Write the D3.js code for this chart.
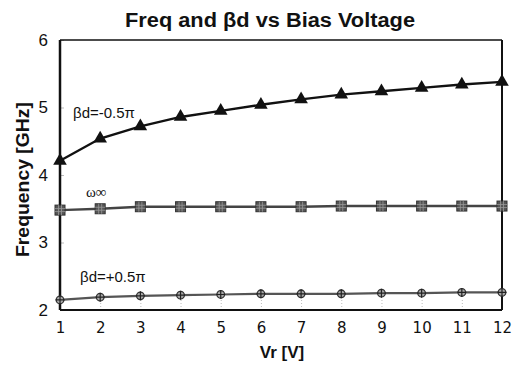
<!DOCTYPE html>
<html>
<head>
<meta charset="utf-8">
<script src="https://cdn.jsdelivr.net/npm/d3@7"></script>
<style>
  body { margin: 0; background: #fff; }
  svg { display: block; }
  text { font-family: "Liberation Sans", Arial, sans-serif; fill: #111; }
</style>
</head>
<body>
<div id="chart"></div>
<script>
const voltages = [1, 2, 3, 4, 5, 6, 7, 8, 9, 10, 11, 12];
const freqMinus = [4.21, 4.54, 4.72, 4.86, 4.95, 5.04, 5.12, 5.19, 5.24, 5.29, 5.34, 5.38];
const freqInf = [3.48, 3.50, 3.53, 3.53, 3.53, 3.53, 3.53, 3.54, 3.54, 3.54, 3.54, 3.54];
const freqPlus = [2.15, 2.19, 2.21, 2.22, 2.23, 2.24, 2.24, 2.24, 2.25, 2.25, 2.26, 2.26];
const yTicks = [2, 3, 4, 5, 6];

const W = 525, H = 366;
const margin = {top: 40, right: 23, bottom: 56, left: 60};
const width = W - margin.left - margin.right;
const height = H - margin.top - margin.bottom;

const svg = d3.select('#chart').append('svg')
  .attr('width', W)
  .attr('height', H);

const g = svg.append('g')
  .attr('transform', `translate(${margin.left},${margin.top})`);

const x = d3.scaleLinear().domain([1, 12]).range([0, width]);
const y = d3.scaleLinear().domain([2, 6]).range([height, 0]);

// faint inner ticks
g.append('g')
  .attr('transform', `translate(0,${height})`)
  .call(d3.axisTop(x).tickValues(voltages).tickSize(10).tickFormat(''))
  .call(a => a.select('.domain').remove())
  .selectAll('line').attr('stroke', '#bbb').attr('stroke-dasharray', '1,2');

g.append('g')
  .call(d3.axisRight(y).tickValues(yTicks).tickSize(4).tickFormat(''))
  .call(a => a.select('.domain').remove())
  .selectAll('line').attr('stroke', '#bbb');

// tick labels
g.append('g')
  .attr('transform', `translate(0,${height})`)
  .call(d3.axisBottom(x).tickValues(voltages).tickSize(0).tickPadding(12))
  .call(a => a.select('.domain').remove())
  .selectAll('text')
    .style('font-family', '"DejaVu Sans", sans-serif')
    .style('font-size', '15px')
    .attr('fill', '#111');

g.append('g')
  .call(d3.axisLeft(y).tickValues(yTicks).tickFormat(d3.format('d')).tickSize(0).tickPadding(12))
  .call(a => a.select('.domain').remove())
  .selectAll('text')
    .style('font-size', '17px')
    .attr('fill', '#111');

// frame
g.append('line').attr('x1', 0).attr('x2', width).attr('y1', 0).attr('y2', 0)
  .attr('stroke', '#111').attr('stroke-width', 1.5);
g.append('line').attr('x1', 0).attr('x2', width).attr('y1', height).attr('y2', height)
  .attr('stroke', '#111').attr('stroke-width', 2);
g.append('line').attr('x1', 0).attr('x2', 0).attr('y1', 0).attr('y2', height)
  .attr('stroke', '#111').attr('stroke-width', 2.5);
g.append('line').attr('x1', width).attr('x2', width).attr('y1', 0).attr('y2', height)
  .attr('stroke', '#111').attr('stroke-width', 2);

const line = d3.line()
  .x((d, i) => x(voltages[i]))
  .y(d => y(d));

// lower series: +0.5 pi
g.append('path').datum(freqPlus)
  .attr('d', line).attr('fill', 'none')
  .attr('stroke', '#555').attr('stroke-width', 2.2);
const circ = g.selectAll('.circ').data(freqPlus).enter().append('g')
  .attr('transform', (d, i) => `translate(${x(voltages[i])},${y(d)})`);
circ.append('circle').attr('r', 3.8).attr('fill', '#aaa').attr('stroke', '#333').attr('stroke-width', 1.3);
circ.append('path').attr('d', 'M-4.5,0H4.5M0,-4.5V4.5').attr('stroke', '#222').attr('stroke-width', 1.2);

// middle series: omega infinity
g.append('path').datum(freqInf)
  .attr('d', line).attr('fill', 'none')
  .attr('stroke', '#444').attr('stroke-width', 2.4);
const sq = g.selectAll('.sq').data(freqInf).enter().append('g')
  .attr('transform', (d, i) => `translate(${x(voltages[i])},${y(d)})`);
sq.append('rect').attr('x', -5).attr('y', -5).attr('width', 10).attr('height', 10)
  .attr('fill', '#555').attr('stroke', '#333').attr('stroke-width', 1);
sq.append('path').attr('d', 'M-5,-1.5H5M-5,1.5H5M-1.5,-5V5M1.5,-5V5')
  .attr('stroke', '#999').attr('stroke-width', 0.8);

// upper series: -0.5 pi
g.append('path').datum(freqMinus)
  .attr('d', line).attr('fill', 'none')
  .attr('stroke', '#111').attr('stroke-width', 2.4);
g.selectAll('.tri').data(freqMinus).enter().append('path')
  .attr('transform', (d, i) => `translate(${x(voltages[i])},${y(d)})`)
  .attr('d', d3.symbol().type(d3.symbolTriangle).size(80))
  .attr('fill', '#111');

// series labels
g.append('text').attr('x', 13).attr('y', 78)
  .style('font-size', '15px').text('βd=-0.5π');
g.append('text').attr('x', 26).attr('y', 157)
  .style('font-family', '"Liberation Serif", serif').style('font-size', '15px')
  .text('ω∞');
g.append('text').attr('x', 20).attr('y', 242)
  .style('font-size', '15px').text('βd=+0.5π');

// titles
svg.append('text').attr('x', 125).attr('y', 27)
  .attr('textLength', 290).attr('lengthAdjust', 'spacingAndGlyphs')
  .style('font-size', '20px').style('font-weight', 'bold')
  .text('Freq and βd vs Bias Voltage');

svg.append('text').attr('x', 282).attr('y', 358)
  .attr('text-anchor', 'middle')
  .style('font-size', '17px').style('font-weight', 'bold')
  .text('Vr [V]');

svg.append('text')
  .attr('transform', 'translate(29,102) rotate(-90)')
  .attr('text-anchor', 'end')
  .attr('textLength', 155).attr('lengthAdjust', 'spacingAndGlyphs')
  .style('font-size', '18px').style('font-weight', 'bold')
  .text('Frequency [GHz]');
</script>
</body>
</html>
